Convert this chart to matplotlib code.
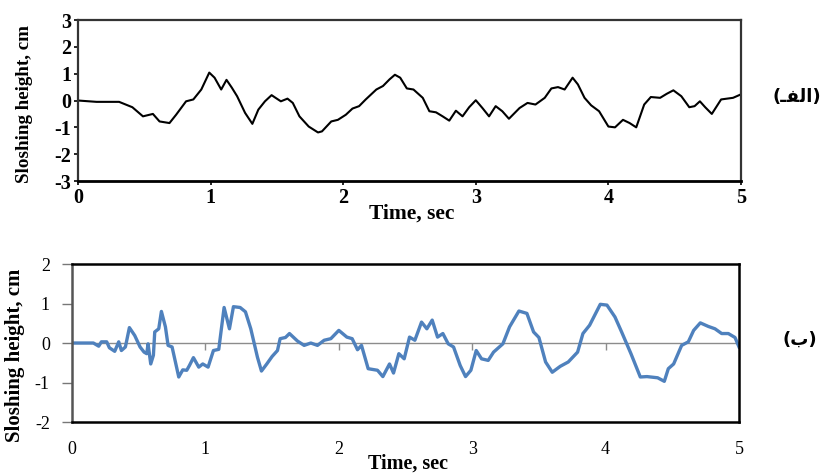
import numpy as np
import matplotlib
matplotlib.use('Agg')
import matplotlib.pyplot as plt

plt.rcParams['axes.unicode_minus'] = False
plt.rcParams['font.family'] = ['Liberation Serif', 'DejaVu Serif']

# (a) measured sloshing height
t_a = [0.0, 0.14, 0.31, 0.41, 0.49, 0.565, 0.615, 0.69, 0.74, 0.815, 0.87,
       0.93, 0.99, 1.03, 1.08, 1.12, 1.16, 1.2, 1.26, 1.315, 1.36, 1.41,
       1.46, 1.49, 1.53, 1.58, 1.62, 1.67, 1.74, 1.81, 1.84, 1.91, 1.96,
       2.02, 2.07, 2.12, 2.17, 2.25, 2.3, 2.35, 2.39, 2.43, 2.48, 2.53,
       2.6, 2.65, 2.7, 2.75, 2.8, 2.85, 2.9, 2.95, 3.0, 3.05, 3.1, 3.15,
       3.2, 3.25, 3.33, 3.39, 3.45, 3.52, 3.57, 3.62, 3.67, 3.73, 3.77,
       3.82, 3.87, 3.93, 4.0, 4.05, 4.11, 4.16, 4.21, 4.27, 4.32, 4.39,
       4.44, 4.49, 4.55, 4.61, 4.65, 4.69, 4.73, 4.78, 4.85, 4.94, 5.0]
h_a = [0.0, -0.05, -0.05, -0.25, -0.59, -0.5, -0.78, -0.84, -0.53, -0.03,
       0.04, 0.41, 1.04, 0.85, 0.41, 0.77, 0.48, 0.16, -0.46, -0.87, -0.34,
       -0.03, 0.2, 0.1, -0.03, 0.07, -0.09, -0.59, -0.97, -1.19, -1.15,
       -0.78, -0.72, -0.53, -0.3, -0.21, 0.04, 0.41, 0.54, 0.79, 0.96, 0.85,
       0.45, 0.41, 0.1, -0.4, -0.44, -0.59, -0.75, -0.38, -0.59, -0.25,
       0.01, -0.28, -0.59, -0.21, -0.4, -0.68, -0.28, -0.09, -0.15, 0.1,
       0.45, 0.5, 0.41, 0.85, 0.6, 0.1, -0.18, -0.4, -0.97, -1.0, -0.72,
       -0.84, -1.0, -0.15, 0.13, 0.1, 0.25, 0.38, 0.16, -0.25, -0.21, -0.03,
       -0.25, -0.5, 0.04, 0.1, 0.23]

# (b) simulated sloshing height
t_b = [0.0, 0.16, 0.2, 0.22, 0.26, 0.28, 0.32, 0.35, 0.37, 0.4, 0.43, 0.47,
       0.51, 0.54, 0.56, 0.57, 0.59, 0.61, 0.62, 0.65, 0.67, 0.7, 0.72,
       0.75, 0.8, 0.83, 0.86, 0.88, 0.91, 0.95, 0.98, 1.02, 1.06, 1.1, 1.14,
       1.18, 1.21, 1.26, 1.3, 1.34, 1.39, 1.42, 1.46, 1.5, 1.54, 1.56, 1.6,
       1.63, 1.69, 1.74, 1.79, 1.84, 1.89, 1.94, 2.0, 2.06, 2.1, 2.14, 2.17,
       2.22, 2.29, 2.33, 2.38, 2.41, 2.45, 2.49, 2.53, 2.57, 2.62, 2.66,
       2.7, 2.74, 2.78, 2.82, 2.86, 2.91, 2.95, 2.99, 3.03, 3.07, 3.12,
       3.16, 3.23, 3.28, 3.35, 3.41, 3.46, 3.5, 3.55, 3.6, 3.66, 3.72, 3.79,
       3.83, 3.88, 3.96, 4.01, 4.07, 4.12, 4.19, 4.26, 4.31, 4.39, 4.44,
       4.47, 4.51, 4.57, 4.62, 4.66, 4.71, 4.77, 4.82, 4.87, 4.92, 4.97, 5.0]
h_b = [0.0, 0.0, -0.08, 0.03, 0.03, -0.12, -0.21, 0.03, -0.19, -0.1, 0.39,
       0.19, -0.1, -0.23, -0.27, -0.02, -0.53, -0.31, 0.28, 0.36, 0.8, 0.41,
       -0.06, -0.1, -0.86, -0.68, -0.69, -0.57, -0.37, -0.61, -0.53, -0.61,
       -0.19, -0.16, 0.9, 0.36, 0.92, 0.9, 0.79, 0.36, -0.36, -0.71, -0.53,
       -0.34, -0.19, 0.11, 0.14, 0.24, 0.05, -0.06, 0.0, -0.06, 0.07, 0.11,
       0.32, 0.15, 0.11, -0.17, -0.06, -0.65, -0.69, -0.85, -0.53, -0.76,
       -0.27, -0.4, 0.15, 0.07, 0.53, 0.36, 0.58, 0.15, 0.24, -0.02, -0.1,
       -0.57, -0.85, -0.69, -0.19, -0.4, -0.44, -0.23, -0.02, 0.41, 0.81,
       0.75, 0.28, 0.14, -0.48, -0.74, -0.59, -0.48, -0.23, 0.24, 0.45,
       0.98, 0.96, 0.66, 0.28, -0.27, -0.86, -0.85, -0.88, -0.97, -0.65,
       -0.53, -0.06, 0.03, 0.32, 0.51, 0.42, 0.36, 0.24, 0.24, 0.14, -0.1]

fig = plt.figure(figsize=(8.27, 4.73), dpi=100)

# ---- top panel (black line) ----
ax1 = fig.add_axes([0.0943, 0.6173, 0.8017, 0.3404])
ax1.plot(t_a, h_a, color='black', lw=1.5)
ax1.set_xlim(0, 5)
ax1.set_ylim(-3, 3)
ax1.set_xticks(range(6))
ax1.set_yticks(range(-3, 4))
for sp in ax1.spines.values():
    sp.set_linewidth(1.6)
    sp.set_color('#333333')
ax1.spines['bottom'].set_color('black')
ax1.spines['bottom'].set_linewidth(2)
ax1.tick_params(direction='out', length=3, width=1.2, labelsize=14.5, pad=2)
for lab in ax1.get_xticklabels() + ax1.get_yticklabels():
    lab.set_fontweight('bold')
ax1.set_ylabel('Sloshing height, cm', fontsize=13.7, fontweight='bold')
ax1.yaxis.set_label_coords(-0.068, 0.48)
ax1.set_xlabel('Time, sec', fontsize=15.5, fontweight='bold')
ax1.xaxis.set_label_coords(0.504, -0.14)

# ---- bottom panel (blue line) ----
ax2 = fig.add_axes([0.0871, 0.1078, 0.8065, 0.334])
ax2.axhline(0, color='#8c8c8c', lw=1.0, zorder=1)
ax2.plot(t_b, h_b, color='#4f81bd', lw=2.4, zorder=2)
ax2.set_xlim(0, 5)
ax2.set_ylim(-2, 2)
ax2.set_xticks(range(6))
ax2.set_yticks(range(-2, 3))
for sp in ax2.spines.values():
    sp.set_linewidth(1.8)
    sp.set_color('black')
ax2.spines['left'].set_color('#555555')
ax2.tick_params(axis='y', direction='out', length=7, width=1, color='#777777',
                labelsize=13, pad=9)
ax2.tick_params(axis='x', length=0, labelsize=13, pad=14)
sec = ax2.secondary_xaxis(0.5)
sec.set_xticks(range(1, 5))
sec.set_xticklabels([])
sec.tick_params(axis='x', direction='in', length=5, width=1,
                color='#8c8c8c', labelbottom=False, labeltop=False)
for sp in sec.spines.values():
    sp.set_visible(False)
ax2.set_ylabel('Sloshing height, cm', fontsize=15, fontweight='bold')
ax2.yaxis.set_label_coords(-0.071, 0.42)
ax2.set_xlabel('Time, sec', fontsize=14.5, fontweight='bold')
ax2.xaxis.set_label_coords(0.504, -0.2)

# panel tags (visual order, presentation forms)
fig.text(0.963, 0.795, '(\u0640\ufed4\ufedf\u0627)', ha='center', va='center',
         fontsize=13, fontweight='bold', family=['DejaVu Sans'])
fig.text(0.967, 0.282, '(\ufe8f)', ha='center', va='center',
         fontsize=13, fontweight='bold', family=['DejaVu Sans'])

fig.savefig('out.png', dpi=100)
